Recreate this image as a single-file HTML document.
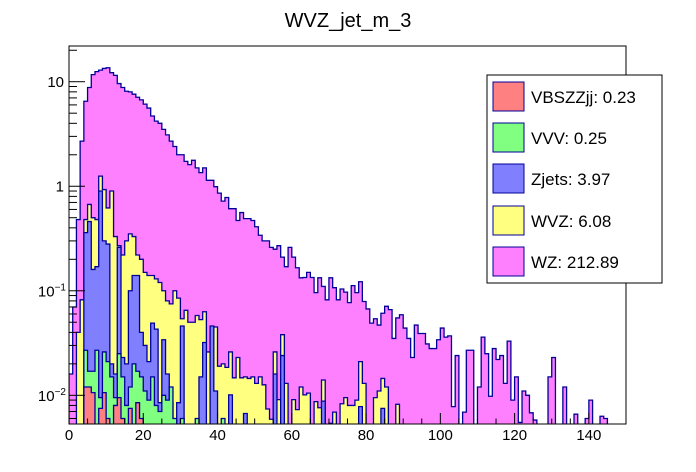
<!DOCTYPE html>
<html><head><meta charset="utf-8"><style>
html,body{margin:0;padding:0;background:#fff;}
svg{display:block;font-family:"Liberation Sans",Arial,sans-serif;}
</style></head><body>
<svg id="c" width="696" height="472" viewBox="0 0 696 472">
<defs>
<clipPath id="frameclip"><rect x="69" y="46" width="557" height="378"/></clipPath>
</defs>
<text x="348" y="27" font-size="20" text-anchor="middle">WVZ_jet_m_3</text>
<g id="bars" clip-path="url(#frameclip)"></g>
<rect x="69" y="46" width="557" height="378" fill="none" stroke="#000" stroke-width="1"/>
<g id="axes"></g>
<g>
<rect x="487" y="75" width="175" height="208" fill="#fff" stroke="#000" stroke-width="1"/>
<g><rect x="493" y="82" width="31" height="29" fill="#ff8080" stroke="#000099"/><text x="531" y="103" font-size="17">VBSZZjj: 0.23</text></g>
<g><rect x="493" y="123" width="31" height="29" fill="#80ff80" stroke="#000099"/><text x="531" y="144" font-size="17">VVV: 0.25</text></g>
<g><rect x="493" y="164" width="31" height="29" fill="#8080ff" stroke="#000099"/><text x="531" y="185" font-size="17">Zjets: 3.97</text></g>
<g><rect x="493" y="206" width="31" height="29" fill="#ffff80" stroke="#000099"/><text x="531" y="227" font-size="17">WVZ: 6.08</text></g>
<g><rect x="493" y="247" width="31" height="29" fill="#ff80ff" stroke="#000099"/><text x="531" y="268" font-size="17">WZ: 212.89</text></g>
</g>
</svg>
<script>
const totalStack = [0.016,0.07,0.48,2.7,6.5,8.8,11.7,12.5,12.9,13.4,
13.6,12.2,11.5,9.6,8.8,8.1,8.0,7.6,7.1,6.7,
6.1,5.6,4.7,4.2,4.0,3.5,3.1,2.7,2.4,2.0,
2.0,1.73,1.61,1.77,1.5,1.35,1.5,1.14,1.14,0.99,
0.86,0.72,0.78,0.61,0.61,0.47,0.56,0.49,0.49,0.47,
0.41,0.34,0.30,0.30,0.26,0.25,0.27,0.21,0.17,0.26,
0.21,0.166,0.133,0.134,0.15,0.134,0.096,0.133,0.11,0.082,
0.133,0.107,0.082,0.104,0.097,0.077,0.112,0.096,0.122,0.079,
0.067,0.049,0.054,0.047,0.061,0.071,0.066,0.035,0.055,0.059,
0.044,0.035,0.023,0.047,0.039,0.039,0.031,0.028,0.028,0.034,
0.044,0.036,0.037,0.0078,0.024,0,0.0069,0.027,0.027,0,
0.012,0.036,0.025,0.0098,0.028,0.022,0.024,0.013,0.033,0.009,
0.015,0.0055,0.011,0.010,0.0068,0.0058,0,0,0,0.015,
0.023,0,0,0.012,0,0,0.0066,0,0,0.006,
0.009,0,0,0.0063,0.006,0,0,0,0,0];
const wvzStack = [0,0,0.04,0.082,0.48,0.67,0.5,0.48,1.25,0.93,
0.62,0.9,0.33,0.27,0.22,0.3,0.35,0.33,0.22,0.2,
0.15,0.14,0.14,0.13,0.12,0.10,0.08,0.075,0.1,0.085,
0.054,0.065,0.05,0.05,0.058,0.053,0.063,0.026,0.040,0.045,
0.019,0.020,0.0185,0.026,0.0147,0.023,0.0147,0.015,0.0145,0.015,
0.013,0.015,0.0126,0.0074,0.0059,0.026,0.0091,0.038,0.013,0,
0.0091,0.0073,0.012,0.0101,0.0105,0,0.0087,0.0076,0.014,0,
0.0054,0.0069,0,0.0083,0.0095,0.008,0.008,0.009,0.021,0.013,
0,0,0.0095,0.011,0.0145,0.012,0,0,0.0082,0];
const zjetsStack = [0,0,0,0,0.36,0.46,0.16,0.17,0.9,0.3,
0.28,0.02,0.016,0.26,0.023,0.02,0.1,0.14,0.14,0.04,
0.03,0.021,0.049,0.043,0.0085,0.034,0.016,0.0085,0,0.0085,
0.046,0,0,0,0,0.015,0.032,0,0.046,0.011,
0,0,0,0.0101,0,0,0,0.0067,0,0,
0,0,0,0,0,0.016,0,0.024,0,0,
0,0,0,0,0,0,0,0,0.0088,0,
0,0,0,0,0,0,0,0,0.0078,0,
0,0,0,0,0.0075,0];
const vvvStack = [0,0,0,0,0.027,0.017,0.017,0.027,0.0095,0.026,
0.021,0.015,0.0095,0.025,0.015,0.008,0.012,0.02,0.017,0.015,
0.011,0.009,0.015,0.008,0.007,0.01,0.009,0.012,0.006,0,
0.006,0,0,0,0.006,0,0,0,0,0,0,0.006];
const vbsStack = [0,0,0,0,0.012,0.012,0.0106,0,0.0075,0.0106,
0.006,0,0.008,0.0095,0.006,0,0.0075,0,0.0085,0.006];
const xTickLabels = ["0","20","40","60","80","100","120","140"];
const yDecades = [-2,-1,0,1];

const NS = "http://www.w3.org/2000/svg";
const X0 = 69, X1 = 626, Y0 = 46, Y1 = 424;
const XMIN = 0, XMAX = 150, NB = 150;
const LOGMIN = -2.2745, LOGMAX = 1.3417;
function xOf(v){ return X0 + (v - XMIN) / (XMAX - XMIN) * (X1 - X0); }
function yOf(v){
  if (!(v > 0)) return Y1 + 2;
  const l = Math.log10(v);
  return Y1 - (l - LOGMIN) / (LOGMAX - LOGMIN) * (Y1 - Y0);
}
const bars = document.getElementById('bars');
function drawLevel(arr, fill, name){
  let d = "M" + xOf(0) + "," + (Y1 + 2);
  for (let i = 0; i < NB; i++){
    const v = arr[i] || 0;
    const y = Math.max(Y0 - 2, Math.min(Y1 + 2, yOf(v)));
    d += " L" + xOf(i).toFixed(2) + "," + y.toFixed(2) + " L" + xOf(i + 1).toFixed(2) + "," + y.toFixed(2);
  }
  d += " L" + xOf(NB) + "," + (Y1 + 2) + " Z";
  const p = document.createElementNS(NS, 'path');
  p.setAttribute('d', d);
  p.setAttribute('fill', fill);
  p.setAttribute('stroke', '#000099');
  p.setAttribute('stroke-width', '1.3');
  
  
  bars.appendChild(p);
}
drawLevel(totalStack, '#ff80ff', 'wz-stack');
drawLevel(wvzStack, '#ffff80', 'wvz-stack');
drawLevel(zjetsStack, '#8080ff', 'zjets-stack');
drawLevel(vvvStack, '#80ff80', 'vvv-stack');
drawLevel(vbsStack, '#ff8080', 'vbszzjj-stack');

const axes = document.getElementById('axes');
function line(x1,y1,x2,y2){
  const l = document.createElementNS(NS,'line');
  l.setAttribute('x1',x1); l.setAttribute('y1',y1); l.setAttribute('x2',x2); l.setAttribute('y2',y2);
  l.setAttribute('stroke','#000'); l.setAttribute('stroke-width','1');
  
  
  axes.appendChild(l);
}
for (let v = 0; v <= 150; v += 5){
  const x = xOf(v);
  const major = (v % 20 === 0);
  line(x, Y1, x, Y1 - (major ? 11 : 5.5));
}
xTickLabels.forEach(function(lab){
  const t = document.createElementNS(NS,'text');
  t.setAttribute('x', xOf(parseFloat(lab)));
  t.setAttribute('y', 440);
  t.setAttribute('font-size','15');
  t.setAttribute('text-anchor','middle');
  
  
  t.textContent = lab;
  axes.appendChild(t);
});
for (let d = -3; d <= 1; d++){
  for (let m = 1; m <= 9; m++){
    const v = m * Math.pow(10, d);
    const l = Math.log10(v);
    if (l < LOGMIN || l > LOGMAX) continue;
    const y = yOf(v);
    line(X0, y, X0 + (m === 1 ? 16 : 8), y);
  }
}
yDecades.forEach(function(dec){
  const y = yOf(Math.pow(10, dec));
  const t = document.createElementNS(NS,'text');
  t.setAttribute('y', y + 5.5);
  t.setAttribute('font-size','15');
  t.setAttribute('text-anchor','end');
  
  
  if (dec === 0){ t.setAttribute('x', 64); t.textContent = "1"; }
  else if (dec === 1){ t.setAttribute('x', 64); t.textContent = "10"; }
  else {
    t.setAttribute('x', 66);
    const a = document.createElementNS(NS,'tspan'); a.textContent = "10";
    const b = document.createElementNS(NS,'tspan'); b.textContent = "\u2212" + (-dec);
    b.setAttribute('font-size','10'); b.setAttribute('dy','-6');
    t.appendChild(a); t.appendChild(b);
  }
  axes.appendChild(t);
});
</script>
</body></html>
